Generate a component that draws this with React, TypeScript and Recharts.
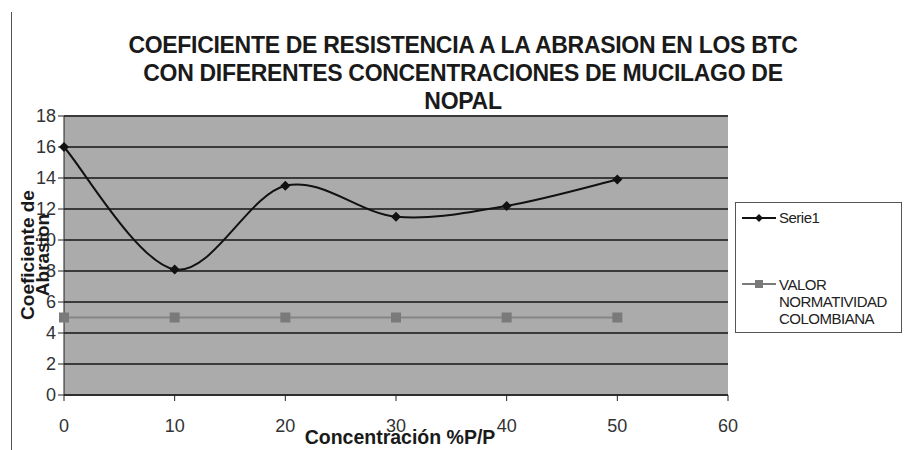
import React from "react";
import { LineChart, Line, XAxis, YAxis, CartesianGrid } from "recharts";

const concentraciones = [0, 10, 20, 30, 40, 50];
const serie1 = [16.0, 8.1, 13.5, 11.5, 12.2, 13.9];
const normatividad = [5, 5, 5, 5, 5, 5];
const xTicks = [0, 10, 20, 30, 40, 50, 60];
const yTicks = [0, 2, 4, 6, 8, 10, 12, 14, 16, 18];

const data = concentraciones.map((c, i) => ({
  x: c,
  serie1: serie1[i],
  normatividad: normatividad[i],
}));

const FONT = "'Liberation Sans', Arial, sans-serif";

// Excel-style smoothed line (Catmull-Rom through points, tension 1/6)
const excelCurve: any = (context: any) => {
  let pts: number[][] = [];
  return {
    areaStart() {},
    areaEnd() {},
    lineStart() {
      pts = [];
    },
    point(x: number, y: number) {
      pts.push([+x, +y]);
    },
    lineEnd() {
      if (!pts.length) return;
      context.moveTo(pts[0][0], pts[0][1]);
      for (let i = 0; i < pts.length - 1; i++) {
        const p0 = pts[Math.max(i - 1, 0)];
        const p1 = pts[i];
        const p2 = pts[i + 1];
        const p3 = pts[Math.min(i + 2, pts.length - 1)];
        context.bezierCurveTo(
          p1[0] + (p2[0] - p0[0]) / 6,
          p1[1] + (p2[1] - p0[1]) / 6,
          p2[0] - (p3[0] - p1[0]) / 6,
          p2[1] - (p3[1] - p1[1]) / 6,
          p2[0],
          p2[1]
        );
      }
    },
  };
};

const Diamond = (props: any) => {
  const { cx, cy } = props;
  if (cx == null || cy == null) return null;
  return <path d={`M${cx},${cy - 5}L${cx + 5},${cy}L${cx},${cy + 5}L${cx - 5},${cy}Z`} fill="#111" />;
};

const Square = (props: any) => {
  const { cx, cy } = props;
  if (cx == null || cy == null) return null;
  return <rect x={cx - 5} y={cy - 5} width={10} height={10} fill="#7a7a7a" />;
};

const LegendBox = () => (
  <div
    style={{
      position: "absolute",
      left: 735,
      top: 202,
      width: 167,
      height: 131,
      border: "1.5px solid #555",
      boxSizing: "border-box",
      background: "#fff",
      fontFamily: FONT,
      fontSize: 15,
      color: "#222",
    }}
  >
    <svg width={40} height={20} style={{ position: "absolute", left: 4, top: 5 }}>
      <line x1={2} y1={10} x2={36} y2={10} stroke="#111" strokeWidth={2} />
      <path d="M19,6L23,10L19,14L15,10Z" fill="#111" />
    </svg>
    <div style={{ position: "absolute", left: 43, top: 6, letterSpacing: -0.5 }}>Serie1</div>
    <svg width={40} height={20} style={{ position: "absolute", left: 4, top: 71 }}>
      <line x1={2} y1={10} x2={36} y2={10} stroke="#7a7a7a" strokeWidth={2} />
      <rect x={15} y={6} width={8} height={8} fill="#7a7a7a" />
    </svg>
    <div style={{ position: "absolute", left: 43, top: 73, lineHeight: "17px", letterSpacing: -0.5 }}>
      VALOR
      <br />
      NORMATIVIDAD
      <br />
      COLOMBIANA
    </div>
  </div>
);

export default function App() {
  return (
    <div style={{ position: "absolute", left: 0, top: 0, width: 905, height: 450, background: "#fff" }}>
      <div style={{ position: "absolute", left: 11, top: 12, width: 1, height: 438, background: "#555" }} />
      <div
        style={{
          position: "absolute",
          left: 60,
          width: 806,
          top: 31,
          textAlign: "center",
          fontFamily: FONT,
          fontWeight: "bold",
          fontSize: 23,
          lineHeight: "28px",
          letterSpacing: -0.3,
          color: "#1a1a1a",
        }}
      >
        COEFICIENTE DE RESISTENCIA A LA ABRASION EN LOS BTC
        <br />
        CON DIFERENTES CONCENTRACIONES DE MUCILAGO DE
        <br />
        NOPAL
      </div>
      <LineChart
        width={905}
        height={450}
        data={data}
        margin={{ top: 116, right: 177, bottom: 15, left: 14 }}
      >
        <CartesianGrid
          vertical={false}
          fill="#ababab"
          stroke="#3a3a3a"
          strokeWidth={2}
          horizontalValues={yTicks}
        />
        <XAxis
          dataKey="x"
          type="number"
          domain={[0, 60]}
          ticks={xTicks}
          interval={0}
          stroke="#222"
          tickSize={6}
          tick={{ fill: "#333", fontSize: 18, fontFamily: FONT }}
          tickMargin={18}
          height={40}
        />
        <YAxis
          type="number"
          domain={[0, 18]}
          ticks={yTicks}
          interval={0}
          stroke="#222"
          tickSize={6}
          width={50}
          tick={{ fill: "#333", fontSize: 18, fontFamily: FONT }}
        />
        <Line
          dataKey="normatividad"
          name="VALOR NORMATIVIDAD COLOMBIANA"
          type="linear"
          stroke="#858585"
          strokeWidth={2}
          dot={<Square />}
          isAnimationActive={false}
        />
        <Line
          dataKey="serie1"
          name="Serie1"
          type={excelCurve}
          stroke="#111"
          strokeWidth={2}
          dot={<Diamond />}
          isAnimationActive={false}
        />
      </LineChart>
      <LegendBox />
      <div
        style={{
          position: "absolute",
          left: 35,
          top: 255,
          transform: "translate(-50%, -50%) rotate(-90deg)",
          fontFamily: FONT,
          fontWeight: "bold",
          fontSize: 19,
          lineHeight: "15px",
          color: "#1a1a1a",
          whiteSpace: "nowrap",
          textAlign: "center",
        }}
      >
        Coeficiente de
        <br />
        Abrasion
      </div>
      <div
        style={{
          position: "absolute",
          left: 400,
          top: 437,
          transform: "translate(-50%, -50%)",
          fontFamily: FONT,
          fontWeight: "bold",
          fontSize: 19.5,
          color: "#1a1a1a",
          whiteSpace: "nowrap",
        }}
      >
        Concentración %P/P
      </div>
    </div>
  );
}
